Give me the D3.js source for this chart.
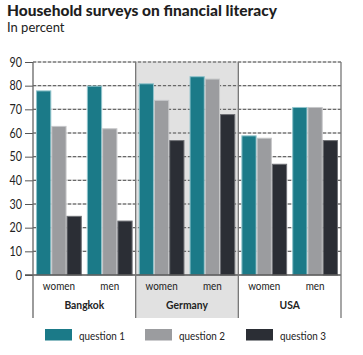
<!DOCTYPE html>
<html><head><meta charset="utf-8">
<script src="https://cdn.jsdelivr.net/npm/d3@7"></script>
<style>
body{margin:0;background:#fff;}
text{font-family:Lato,"Open Sans",sans-serif;}
</style></head>
<body><svg id="c" width="363" height="355"></svg>
<script>
const countries = ["Bangkok","Germany","USA"];
const genders = ["women","men"];
const questions = ["question 1","question 2","question 3"];
const q1 = [78, 80, 81, 84, 59, 71];
const q2 = [63, 62, 74, 83, 58, 71];
const q3 = [25, 23, 57, 68, 47, 57];
const yTicks = [0,10,20,30,40,50,60,70,80,90];
const colors = ["#1b7a88","#9b9c9f","#2b2e35"];
const strokes = ["#8fc3cb","#c6c7c9","#6f7176"];

const svg = d3.select("#c");
const L = 33, R = 341, T = 62, B = 275, bottomExt = 318;
const SX = 0.86; // horizontal condensing to mimic the condensed face

function label(x, y, txt, size, opts={}) {
  return svg.append("text")
    .attr("transform", `translate(${x},${y}) scale(${opts.sx||SX},1)`)
    .attr("text-anchor", opts.anchor||"start")
    .attr("font-size", size)
    .attr("font-weight", opts.weight||"normal")
    .attr("fill", opts.fill||"#222")
    .text(txt);
}

label(7, 15.5, "Household surveys on financial literacy", 15.5, {weight:900, sx:1, fill:"#1e1e1e"});
label(7, 31.5, "In percent", 13, {sx:1});

const y = d3.scaleLinear().domain([0,90]).range([B,T]);
const x0 = d3.scaleBand().domain(countries).range([L,R]);
const x1 = d3.scaleBand().domain(genders).range([0,x0.bandwidth()]).paddingInner(0.1).paddingOuter(0.06);
const x2 = d3.scaleBand().domain(questions).range([0,x1.bandwidth()]);

// Germany shading
svg.append("rect").attr("x",x0("Germany")).attr("y",T).attr("width",x0.bandwidth())
  .attr("height",bottomExt-T).attr("fill","#e1e1e1");

// gridlines
const grid = svg.append("g");
yTicks.filter(t=>t>0).forEach(t=>{
  grid.append("line").attr("x1",L).attr("x2",R).attr("y1",y(t)).attr("y2",y(t))
    .attr("stroke","#cfcfcf").attr("stroke-width",1.5);
  grid.append("line").attr("x1",L).attr("x2",R).attr("y1",y(t)).attr("y2",y(t))
    .attr("stroke","#555").attr("stroke-width",1).attr("stroke-dasharray","3,2");
});

// bars
const series = [q1,q2,q3];
const data = [];
countries.forEach((c,ci)=>genders.forEach((g,gi)=>questions.forEach((q,qi)=>{
  data.push({c,g,q,qi,v:series[qi][ci*2+gi]});
})));
svg.append("g").selectAll("rect").data(data).join("rect")
  .attr("x",d=>x0(d.c)+x1(d.g)+x2(d.q)+0.5)
  .attr("y",d=>y(d.v)+0.5)
  .attr("width",x2.bandwidth()-1)
  .attr("height",d=>B-y(d.v)-0.5)
  .attr("fill",d=>colors[d.qi])
  .attr("stroke",d=>strokes[d.qi]).attr("stroke-width",1);

// y axis
const yAxis = d3.axisLeft(y).tickValues(yTicks).tickSize(8).tickPadding(3);
const ga = svg.append("g").attr("transform",`translate(${L},0)`).call(yAxis);
ga.select(".domain").remove();
ga.selectAll("line").attr("stroke","#555");
ga.selectAll("text").attr("x",0).attr("transform",`translate(-11,0) scale(${SX},1)`)
  .attr("font-size",12.5).attr("fill","#222").attr("font-family","Lato,sans-serif");

// zero line
svg.append("line").attr("x1",L-8).attr("x2",R).attr("y1",B).attr("y2",B).attr("stroke","#555").attr("stroke-width",1.5);

// separators
[L, x0("Germany"), x0("USA"), R].forEach((xx,i)=>{
  svg.append("line").attr("x1",xx).attr("x2",xx).attr("y1",T).attr("y2",bottomExt)
    .attr("stroke",i===0?"#666":"#777").attr("stroke-width",1.3);
});

// category labels
countries.forEach(c=>{
  genders.forEach(g=>{
    label(x0(c)+x1(g)+x1.bandwidth()/2, 290, g, 11.5, {anchor:"middle"});
  });
  label(x0(c)+x0.bandwidth()/2, 309, c, 12, {anchor:"middle", weight:"bold"});
});

// legend
const legX = [45,145,246];
questions.forEach((q,i)=>{
  svg.append("rect").attr("x",legX[i]).attr("y",329).attr("width",27).attr("height",11.5).attr("fill",colors[i]);
  label(legX[i]+34, 339.5, q, 11.5);
});
</script></body></html>
